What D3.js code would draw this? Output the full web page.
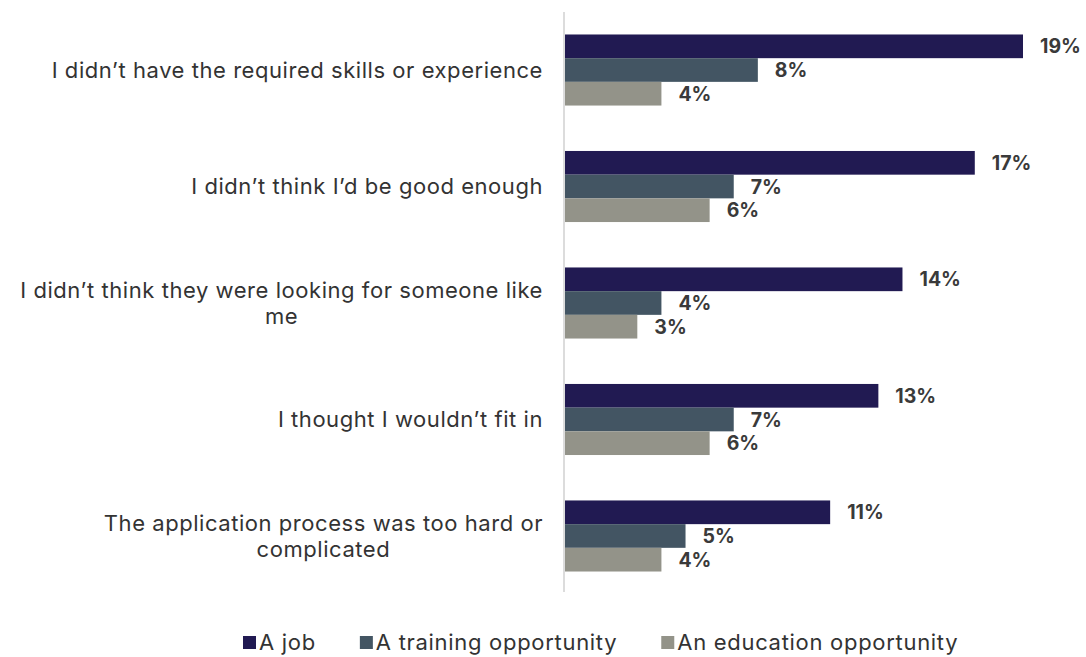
<!DOCTYPE html>
<html>
<head>
<meta charset="utf-8">
<script src="https://cdn.jsdelivr.net/npm/d3@7"></script>
<style>
  html, body { margin: 0; padding: 0; background: #fff; }
  svg { display: block; font-family: Inter, "Open Sans", sans-serif; }
</style>
</head>
<body>
<svg id="chart" width="1086" height="657"></svg>
<script>
// Reasons given for not applying, by opportunity type (%)
const categories = [
  "I didn\u2019t have the required skills or experience",
  "I didn\u2019t think I\u2019d be good enough",
  "I didn\u2019t think they were looking for someone like me",
  "I thought I wouldn\u2019t fit in",
  "The application process was too hard or complicated"
];
const seriesNames = ["A job", "A training opportunity", "An education opportunity"];
const jobValues = [19, 17, 14, 13, 11];
const trainingValues = [8, 7, 4, 7, 5];
const educationValues = [4, 6, 3, 6, 4];
const seriesColors = ["#211a52", "#435563", "#939389"];

const seriesValues = [jobValues, trainingValues, educationValues];
const rows = categories.map((c, i) => ({
  category: c,
  values: seriesNames.map((s, j) => ({ series: s, value: seriesValues[j][i], idx: j }))
}));

const svg = d3.select("#chart");
const axisX = 565;

const x = d3.scaleLinear().domain([0, 19]).range([axisX, 1023]);
const y = d3.scaleBand().domain(categories).range([12, 594]).paddingInner(0.39).paddingOuter(0.193);
const y1 = d3.scaleBand().domain(seriesNames).range([0, y.bandwidth()]);

// Vertical baseline
svg.append("line")
  .attr("x1", axisX - 1).attr("x2", axisX - 1)
  .attr("y1", 12).attr("y2", 592)
  .attr("stroke", "#dcdcdc").attr("stroke-width", 2);

const groups = svg.append("g").selectAll("g")
  .data(rows).join("g")
  .attr("transform", d => `translate(0,${y(d.category)})`);

groups.selectAll("rect")
  .data(d => d.values).join("rect")
  .attr("x", x(0))
  .attr("y", d => y1(d.series))
  .attr("width", d => x(d.value) - x(0))
  .attr("height", y1.bandwidth())
  .attr("fill", d => seriesColors[d.idx]);

groups.selectAll("text.val")
  .data(d => d.values).join("text")
  .attr("class", "val")
  .attr("x", d => x(d.value) + 17)
  .attr("y", d => y1(d.series) + y1.bandwidth() / 2)
  .attr("dy", "0.36em")
  .attr("fill", "#3a3a3a")
  .attr("font-size", 19.5)
  .attr("font-weight", 700)
  .text(d => d.value + "%");

// Category labels, wrapped to fit left of the baseline
const labelRight = 543;
const maxLabelWidth = 540;
const lineHeight = 26;
const labels = svg.append("g").selectAll("text")
  .data(categories).join("text")
  .attr("font-size", 22)
  .attr("letter-spacing", 0.55)
  .attr("fill", "#333")
  .attr("text-anchor", "middle");

labels.each(function (d) {
  const t = d3.select(this);
  const words = d.split(" ");
  const lines = [];
  let line = [];
  const probe = t.append("tspan");
  words.forEach(w => {
    line.push(w);
    probe.text(line.join(" "));
    if (probe.node().getComputedTextLength() > maxLabelWidth && line.length > 1) {
      line.pop();
      lines.push(line.join(" "));
      line = [w];
    }
  });
  lines.push(line.join(" "));
  probe.remove();

  // right-align the block, centre each line within it
  const widths = lines.map(l => {
    const tmp = t.append("tspan").text(l);
    const w = tmp.node().getComputedTextLength();
    tmp.remove();
    return w;
  });
  const blockW = d3.max(widths);
  const cx = labelRight - blockW / 2;
  const cy = y(d) + y.bandwidth() / 2;
  const top = cy - (lines.length - 1) * lineHeight / 2;
  lines.forEach((l, i) => {
    t.append("tspan")
      .attr("x", cx)
      .attr("y", top + i * lineHeight)
      .attr("dy", "0.35em")
      .text(l);
  });
});

// Legend, laid out left to right from measured text widths
const legendY = 642;
const legendGap = 44;
const legend = svg.append("g");
let lx = 243;
seriesNames.forEach((name, i) => {
  legend.append("rect")
    .attr("x", lx).attr("y", legendY - 6)
    .attr("width", 13).attr("height", 13)
    .attr("fill", seriesColors[i]);
  const t = legend.append("text")
    .attr("x", lx + 16).attr("y", legendY).attr("dy", "0.35em")
    .attr("font-size", 22)
    .attr("letter-spacing", 0.7)
    .attr("fill", "#333")
    .text(name);
  lx += 16 + t.node().getComputedTextLength() + legendGap;
});
</script>
</body>
</html>
